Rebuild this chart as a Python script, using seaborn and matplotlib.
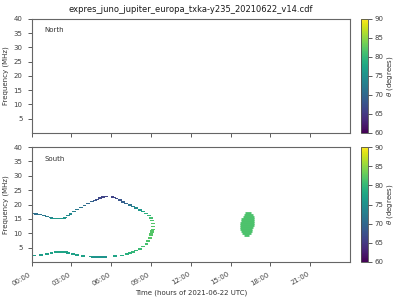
import numpy as np
import pandas as pd
import seaborn as sns
import matplotlib
matplotlib.use("Agg")
import matplotlib.pyplot as plt

# ---- data ----
title = "expres_juno_jupiter_europa_txka-y235_20210622_v14.cdf"
xtick_hours = [0, 3, 6, 9, 12, 15, 18, 21]
xtick_labels = ["00:00", "03:00", "06:00", "09:00", "12:00", "15:00", "18:00", "21:00"]

# North hemisphere: no emission
north_time = []
north_freq = []
north_theta = []

# South hemisphere: emission arc (hours, MHz, degrees)
south_time = [0.08, 0.35, 0.62, 0.93, 1.17, 1.48,
              1.55, 1.70, 1.85, 2.00, 2.15, 2.30, 2.43,
              2.53, 2.73, 2.93, 3.18, 3.43, 3.70, 3.99, 4.25, 4.54,
              4.75, 4.92, 5.15, 5.39, 5.60,
              6.10, 6.25, 6.40, 6.65, 6.90, 7.15, 7.40, 7.65,
              7.90, 8.15, 8.40, 8.65, 8.86, 8.97, 9.08, 9.13, 9.16, 9.14, 9.10, 9.06,
              9.02, 8.98, 8.90, 8.80, 8.66, 8.40, 8.15, 7.90, 7.65, 7.40, 7.20, 6.78, 6.30,
              5.50, 5.35, 5.20, 5.05, 4.90, 4.75, 4.60,
              4.45, 3.89, 3.43, 3.13, 2.73,
              2.60, 2.45, 2.30, 2.15, 2.00, 1.85,
              1.50, 1.15, 0.72, 0.17]
south_freq = [16.9, 16.7, 16.45, 16.1, 15.75, 15.4,
              15.06, 15.06, 15.06, 15.06, 15.06, 15.06, 15.06,
              15.5, 16.1, 16.7, 17.5, 18.3, 19.0, 19.7, 20.4, 21.1,
              21.4, 21.7, 22.2, 22.7, 22.8,
              22.7, 22.4, 22.1, 21.5, 20.9, 20.35, 19.8, 19.3,
              18.8, 18.15, 17.5, 16.8, 16.1, 15.3, 14.4, 13.4, 12.4, 11.4, 10.8, 10.3,
              9.8, 9.3, 8.3, 7.3, 6.3, 5.4, 4.6, 4.0, 3.5, 3.1, 2.8, 2.3, 2.1,
              1.7, 1.7, 1.7, 1.7, 1.7, 1.7, 1.7,
              1.9, 2.1, 2.4, 2.8, 3.1,
              3.5, 3.5, 3.5, 3.5, 3.5, 3.5,
              3.1, 2.8, 2.4, 2.2]
south_theta = [71, 71, 71.5, 72, 72.5, 73,
               76, 76, 76, 76, 76, 76, 76,
               75, 74.5, 74, 73, 72, 71.5, 71, 70, 69.5,
               68, 67, 66.5, 66, 66,
               66, 66.5, 67, 68, 69, 70, 71.5, 73,
               74.5, 76, 77.5, 79, 80, 81, 81.5, 82, 82, 82, 82, 82,
               82, 82, 82, 81.5, 81, 81, 80.5, 80, 80, 79.5, 79, 78.5, 77.5,
               75.5, 75.5, 75.5, 75.5, 75.5, 75.5, 75.5,
               76.5, 77, 77, 77, 77,
               77.5, 77.5, 77.5, 77.5, 77.5, 77.5,
               77, 77, 76.5, 76.5]

# South hemisphere: isolated emission blob (rows of frequency bins)
blob_freq = [9.3, 10.0, 10.7, 11.4, 12.1, 12.8, 13.5, 14.2, 14.9, 15.6, 16.3, 16.9]
blob_start = [15.98, 15.86, 15.78, 15.74, 15.72, 15.70, 15.72, 15.76, 15.82, 15.90, 16.00, 16.12]
blob_end = [16.38, 16.52, 16.60, 16.65, 16.70, 16.74, 16.76, 16.78, 16.78, 16.74, 16.68, 16.56]
blob_theta = [81.5] * len(blob_freq)

vmin, vmax = 60, 90

# ---- figure ----
sns.set_style("ticks")
plt.rcParams["font.family"] = ["DejaVu Sans"]
fig = plt.figure(figsize=(4, 3), dpi=100)

ax_n = fig.add_axes([0.079, 0.5567, 0.796, 0.38])
ax_s = fig.add_axes([0.079, 0.1267, 0.796, 0.383])
cax_n = fig.add_axes([0.9025, 0.5567, 0.0175, 0.38])
cax_s = fig.add_axes([0.9025, 0.1267, 0.0175, 0.383])

cmap = plt.get_cmap("viridis")
norm = matplotlib.colors.Normalize(vmin=vmin, vmax=vmax)
dash = [(-1.6, -0.6), (1.6, -0.6), (1.6, 0.6), (-1.6, 0.6)]

df_s = pd.DataFrame({"t": south_time, "f": south_freq, "theta": south_theta})
sns.scatterplot(data=df_s, x="t", y="f", hue="theta", palette="viridis",
                hue_norm=(vmin, vmax), marker=dash, s=8, linewidth=0,
                legend=False, ax=ax_s)
if north_time:
    df_n = pd.DataFrame({"t": north_time, "f": north_freq, "theta": north_theta})
    sns.scatterplot(data=df_n, x="t", y="f", hue="theta", palette="viridis",
                    hue_norm=(vmin, vmax), marker=dash, s=8, linewidth=0,
                    legend=False, ax=ax_n)

for f, a, b, th in zip(blob_freq, blob_start, blob_end, blob_theta):
    ax_s.hlines(f, a, b, colors=[cmap(norm(th))], linewidth=2.0)

for ax, name in [(ax_n, "North"), (ax_s, "South")]:
    ax.set_xlim(0, 24)
    ax.set_ylim(0, 40)
    ax.set_yticks([5, 10, 15, 20, 25, 30, 35, 40])
    ax.set_xticks(xtick_hours)
    ax.tick_params(labelsize=5, length=3, width=0.6, colors="0.25")
    ax.set_ylabel("Frequency (MHz)", fontsize=5, color="0.2", labelpad=3)
    ax.set_xlabel("")
    for sp in ax.spines.values():
        sp.set_visible(True)
        sp.set_linewidth(0.8)
        sp.set_color("0.4")
    ax.text(0.04, 0.9, name, transform=ax.transAxes, fontsize=5, color="0.2",
            va="center", ha="left")

ax_n.set_xticklabels([])
ax_s.set_xticklabels(xtick_labels, rotation=30, ha="right")
ax_s.set_xlabel("Time (hours of 2021-06-22 UTC)", fontsize=5, color="0.2", labelpad=2)
ax_n.set_title(title, fontsize=6, color="0.1", pad=5)

sm = matplotlib.cm.ScalarMappable(norm=norm, cmap=cmap)
for cax in (cax_n, cax_s):
    cb = fig.colorbar(sm, cax=cax)
    cb.set_ticks([60, 65, 70, 75, 80, 85, 90])
    cb.ax.tick_params(labelsize=5, length=3, width=0.6, colors="0.25", pad=1.5)
    cb.set_label(r"$\theta$ (degrees)", fontsize=5, color="0.2", labelpad=1)
    cb.outline.set_linewidth(0.6)
    cb.outline.set_edgecolor("0.3")

fig.savefig("out.png", dpi=100)
